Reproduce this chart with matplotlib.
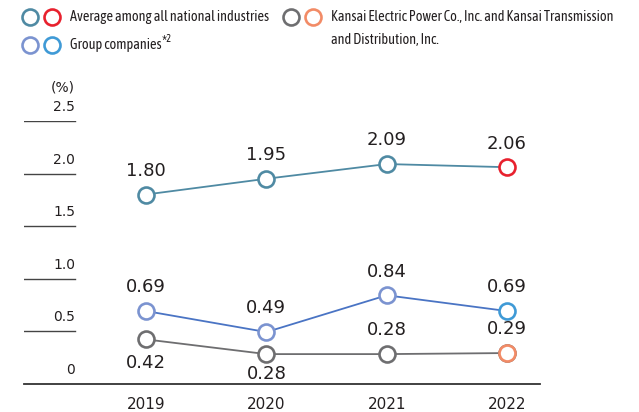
import matplotlib.pyplot as plt
from matplotlib.lines import Line2D
from matplotlib import font_manager as fm

years = ['2019', '2020', '2021', '2022']
national_avg = [1.80, 1.95, 2.09, 2.06]
group_cos = [0.69, 0.49, 0.84, 0.69]
kansai = [0.42, 0.28, 0.28, 0.29]
yticks = [0, 0.5, 1.0, 1.5, 2.0, 2.5]
ytick_labels = ['0', '0.5', '1.0', '1.5', '2.0', '2.5']

# label offsets (points) above(+)/below(-) each marker
kansai_offsets = [-17, -14, 17, 17]

teal, red = '#4f8aa3', '#e8212e'
blue_line, blue_mk, blue_last = '#4a74c4', '#7b93d0', '#3f9ad6'
gray, orange = '#6e6e70', '#f28b66'
txt = '#231f20'

have = {f.name for f in fm.fontManager.ttflist}
narrow = [f for f in ['Asap Condensed', 'Archivo Narrow', 'Barlow Semi Condensed'] if f in have]
narrow = (narrow[:1] or []) + ['DejaVu Sans']
leg_fs = 10.3 if len(narrow) > 1 else 8

W, H = 639, 412
fig = plt.figure(figsize=(W / 100, H / 100), dpi=100)
ax = fig.add_axes([24 / W, (H - 383.5) / H, 516 / W, 262.5 / H])
xs = range(len(years))
ax.set_xlim(-1.014, 3.274)
ax.set_ylim(0, 2.5)
ax.axis('off')

for v, lab in zip(yticks, ytick_labels):
    if v == 0:
        ax.axhline(0, color='#333333', lw=1.3, clip_on=False)
    else:
        ax.axhline(v, xmin=0, xmax=51 / 516, color='#444444', lw=1.0)
    ax.annotate(lab, (-1.014 + 51 / 120.33, v), xytext=(0, 5), textcoords='offset points',
                ha='right', va='bottom', fontsize=10, color=txt, annotation_clip=False)
ax.annotate('(%)', (-1.014 + 51 / 120.33, 2.5), xytext=(0, 19), textcoords='offset points',
            ha='right', va='bottom', fontsize=10, color=txt, annotation_clip=False)

mk = dict(marker='o', ms=11.5, mew=1.9, mfc='white', clip_on=False, zorder=3)

def series(vals, line_c, mk_c, last_c, offsets):
    ax.plot(xs, vals, color=line_c, lw=1.3, zorder=2, clip_on=False)
    for i, v in enumerate(vals):
        c = last_c if i == len(vals) - 1 else mk_c
        ax.plot(i, v, mec=c, **mk)
        ax.annotate(f'{v:.2f}', (i, v), xytext=(0, offsets[i]), textcoords='offset points',
                    ha='center', va='center', fontsize=13, color=txt, annotation_clip=False)

series(national_avg, teal, teal, red, [17] * 4)
series(group_cos, blue_line, blue_mk, blue_last, [17] * 4)
series(kansai, gray, gray, gray, kansai_offsets)
# last Kansai marker is orange
ax.plot(3, kansai[3], mec=orange, **mk)

for i, y in enumerate(years):
    ax.annotate(y, (i, 0), xytext=(0, -15), textcoords='offset points', ha='center',
                va='center', fontsize=11, color=txt, annotation_clip=False)

# legend drawn in figure pixels
def circ(x, y, c):
    fig.add_artist(Line2D([x / W], [1 - y / H], marker='o', ms=11.5, mew=1.9,
                          mfc='white', mec=c, transform=fig.transFigure))

circ(30, 17, teal); circ(52, 17, red)
circ(30, 45, blue_mk); circ(52, 45, blue_last)
circ(291, 17, gray); circ(313, 17, orange)
fig.text(70 / W, 1 - 17 / H, 'Average among all national industries', va='center',
         fontsize=leg_fs, family=narrow, color=txt)
fig.text(70 / W, 1 - 45 / H, 'Group companies', va='center',
         fontsize=leg_fs, family=narrow, color=txt)
fig.text(161.5 / W, 1 - 43 / H, '*²', va='center',
         fontsize=leg_fs + 2.5, family=narrow, color=txt)
fig.text(331 / W, 1 - 17 / H, 'Kansai Electric Power Co., Inc. and Kansai Transmission',
         va='center', fontsize=leg_fs, family=narrow, color=txt)
fig.text(331 / W, 1 - 40 / H, 'and Distribution, Inc.', va='center',
         fontsize=leg_fs, family=narrow, color=txt)

fig.savefig('out.png', dpi=100)
